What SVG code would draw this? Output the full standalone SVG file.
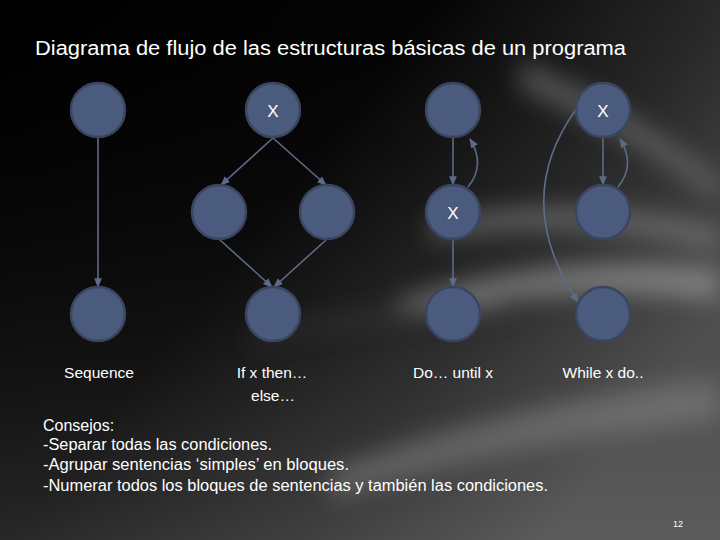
<svg xmlns="http://www.w3.org/2000/svg" width="720" height="540" viewBox="0 0 720 540">
<defs>
<linearGradient id="bg" x1="0" y1="0" x2="1" y2="0.6">
<stop offset="0" stop-color="#000"/>
<stop offset="0.45" stop-color="#050505"/>
<stop offset="0.75" stop-color="#2a2a2a"/>
<stop offset="1" stop-color="#555"/>
</linearGradient>
<linearGradient id="bg2" x1="0" y1="0" x2="0" y2="1">
<stop offset="0" stop-color="#000" stop-opacity="0"/>
<stop offset="0.7" stop-color="#444" stop-opacity="0.4"/>
<stop offset="1" stop-color="#666" stop-opacity="0.6"/>
</linearGradient>
<filter id="blur" x="-50%" y="-50%" width="200%" height="200%"><feGaussianBlur stdDeviation="12"/></filter>
<marker id="ah" viewBox="0 0 10 10" refX="9" refY="5" markerWidth="6" markerHeight="6" orient="auto">
<path d="M0,1 L10,5 L0,9 z" fill="#5d6b8a"/>
</marker>
<style>
.node{fill:#4b5b7d;stroke:#3a465f;stroke-width:2.5}
.edge{fill:none;stroke:#5d6b8a;stroke-width:1.6;marker-end:url(#ah)}
.t{font-family:"Liberation Sans","DejaVu Sans",sans-serif;fill:#fff}
.x{font-family:"Liberation Sans",sans-serif;fill:#fff;font-size:17px;text-anchor:middle}
.lbl{font-size:15.5px;text-anchor:middle}
.body{font-size:16px}
</style>
</defs>
<rect width="720" height="540" fill="url(#bg)"/>
<rect width="720" height="540" fill="url(#bg2)" opacity="0.6"/>
<g filter="url(#blur)" opacity="0.5">
<path d="M400,300 Q560,250 720,270 L720,300 Q560,280 400,320 z" fill="#bbb"/>
<path d="M430,220 Q580,190 720,230 L720,250 Q580,215 430,240 z" fill="#999"/>
<path d="M520,60 Q620,100 720,180 L720,200 Q620,130 520,90 z" fill="#888"/>
<path d="M330,470 Q520,400 720,380 L720,420 Q520,440 330,500 z" fill="#888"/>
<path d="M250,335 Q380,300 500,305 L500,318 Q380,315 250,345 z" fill="#444"/>
</g>
<text class="t" x="35" y="55" font-size="20" textLength="591" lengthAdjust="spacingAndGlyphs">Diagrama de flujo de las estructuras básicas de un programa</text>
<g id="connectors">
<line class="edge" x1="98" y1="138" x2="98" y2="287"/>
<line class="edge" x1="273" y1="138" x2="221" y2="185"/>
<line class="edge" x1="273" y1="138" x2="326" y2="185"/>
<line class="edge" x1="220" y1="240" x2="272" y2="287"/>
<line class="edge" x1="326" y1="240" x2="274" y2="287"/>
<line class="edge" x1="453" y1="138" x2="453" y2="185"/>
<line class="edge" x1="453" y1="240" x2="453" y2="287"/>
<path class="edge" d="M468,187 Q486,165 470,139"/>
<line class="edge" x1="603" y1="138" x2="603" y2="185"/>
<path class="edge" d="M618,187 Q636,165 620,139"/>
<path class="edge" d="M577,108 Q510,200 578,302"/>
</g>
<g id="seq-top"><circle class="node" cx="98" cy="110" r="27"/></g>
<g id="seq-bottom"><circle class="node" cx="98" cy="314" r="27"/></g>
<g id="if-top"><circle class="node" cx="273" cy="110" r="27"/><text class="x" x="273" y="117">X</text></g>
<g id="if-left"><circle class="node" cx="219" cy="212" r="27"/></g>
<g id="if-right"><circle class="node" cx="327" cy="212" r="27"/></g>
<g id="if-bottom"><circle class="node" cx="273" cy="314" r="27"/></g>
<g id="do-top"><circle class="node" cx="453" cy="110" r="27"/></g>
<g id="do-mid"><circle class="node" cx="453" cy="212" r="27"/><text class="x" x="453" y="219">X</text></g>
<g id="do-bottom"><circle class="node" cx="453" cy="314" r="27"/></g>
<g id="while-top"><circle class="node" cx="603" cy="110" r="27"/><text class="x" x="603" y="117">X</text></g>
<g id="while-mid"><circle class="node" cx="603" cy="212" r="27"/></g>
<g id="while-bottom"><circle class="node" cx="603" cy="314" r="27"/></g>
<g id="labels">
<text class="t lbl" x="99" y="378">Sequence</text>
<text class="t lbl" x="272" y="378">If x then…</text>
<text class="t lbl" x="273" y="401">else…</text>
<text class="t lbl" x="453" y="378">Do… until x</text>
<text class="t lbl" x="603" y="378">While x do..</text>
</g>
<g id="notes">
<text class="t body" x="43" y="431">Consejos:</text>
<text class="t body" x="43" y="450" textLength="229" lengthAdjust="spacingAndGlyphs">-Separar todas las condiciones.</text>
<text class="t body" x="43" y="470" textLength="306" lengthAdjust="spacingAndGlyphs">-Agrupar sentencias ‘simples’ en bloques.</text>
<text class="t body" x="43" y="491" textLength="505" lengthAdjust="spacingAndGlyphs">-Numerar todos los bloques de sentencias y también las condiciones.</text>
</g>
<text class="t" x="678" y="527" font-size="9" text-anchor="middle">12</text>
</svg>
